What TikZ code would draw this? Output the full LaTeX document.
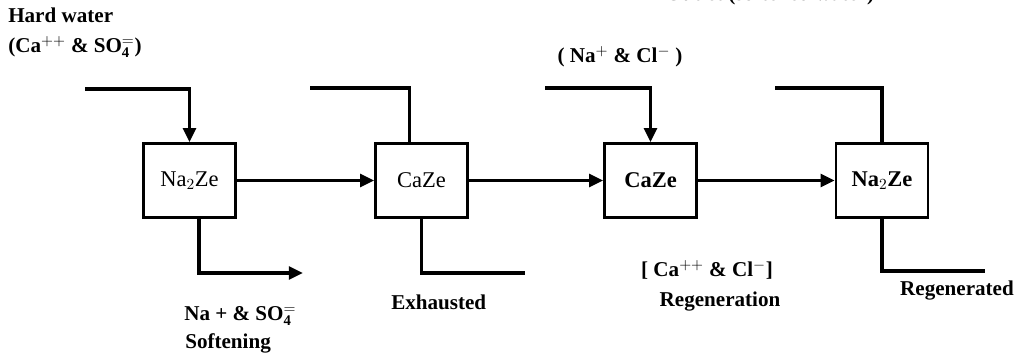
\documentclass[tikz,border=0pt]{standalone}
\usepackage{fontspec}
\setmainfont{Liberation Serif}
\usetikzlibrary{arrows.meta}

\tikzset{
  zebox/.style={draw, line width=1.8pt, minimum width=2.3cm, minimum height=1.85cm,
    font=\fontsize{16}{19}\selectfont},
  pipe/.style={line width=2.3pt},
  flow/.style={pipe, -{Triangle[length=10pt,width=9pt]}},
  lbl/.style={font=\fontsize{15}{18}\selectfont\bfseries, inner sep=0pt}
}

\begin{document}
\begin{tikzpicture}[x=0.025cm, y=-0.025cm]
\useasboundingbox (0,0) rectangle (1020,360);
\clip (0,0) rectangle (1020,360);

% Zeolite beds
\node[zebox] (na1) at (189.5,180.5) {Na$_2$Ze};
\node[zebox] (ca1) at (421.5,180.5) {CaZe};
\node[zebox] (ca2) at (650.5,180.5) {\bfseries CaZe};
\node[zebox] (na2) at (882,180.5) {\bfseries Na$_2$Ze};

% Free ends of the pipes
\coordinate (hw) at (85,89);
\coordinate (in2) at (310,88);
\coordinate (brine) at (545,88);
\coordinate (in4) at (775,88);
\coordinate (out1) at (303,273);
\coordinate (out2) at (525,273);
\coordinate (out4) at (985,271);

% Feed lines on top
\draw[flow] (hw) -| (na1.north);
\draw[pipe] (in2) -| ([xshift=-0.3cm]ca1.north);
\draw[flow] (brine) -| (ca2.north);
\draw[pipe] (in4) -| (na2.north);

% Between the beds
\draw[flow] (na1.east) -- (ca1.west);
\draw[flow] (ca1.east) -- (ca2.west);
\draw[flow] (ca2.east) -- (na2.west);

% Outlets below
\draw[flow] ([xshift=0.24cm]na1.south) |- (out1);
\draw[pipe] (ca1.south) |- (out2);
\draw[pipe] (na2.south) |- (out4);

% Labels
\node[lbl, anchor=west] (hard) at (8,15) {Hard water};
\node[lbl, anchor=west] (hardion) at (8,47) {(Ca$^{\mathbf{++}}$ \& SO$_{\mathbf{4}}^{\mathbf{=}}$)};
\node[lbl] (nacl) at (620,57) {( Na$^{\mathbf{+}}$ \& Cl$^{\mathbf{-}}$ )};
\node[lbl, anchor=base] (outlet) at (770,1) {Outlet (softened water)};
\node[lbl, anchor=west] (soft1) at (184,316) {Na + \& SO$_{\mathbf{4}}^{\mathbf{=}}$};
\node[lbl, anchor=west] (soft2) at (185,343) {Softening};
\node[lbl, anchor=west] (exh) at (391,302) {Exhausted};
\node[lbl] (region) at (707,270) {[ Ca$^{\mathbf{++}}$ \& Cl$^{\mathbf{-}}$]};
\node[lbl] (regen) at (720,302) {Regeneration};
\node[lbl] (regd) at (957,291) {Regenerated};

\end{tikzpicture}
\end{document}
